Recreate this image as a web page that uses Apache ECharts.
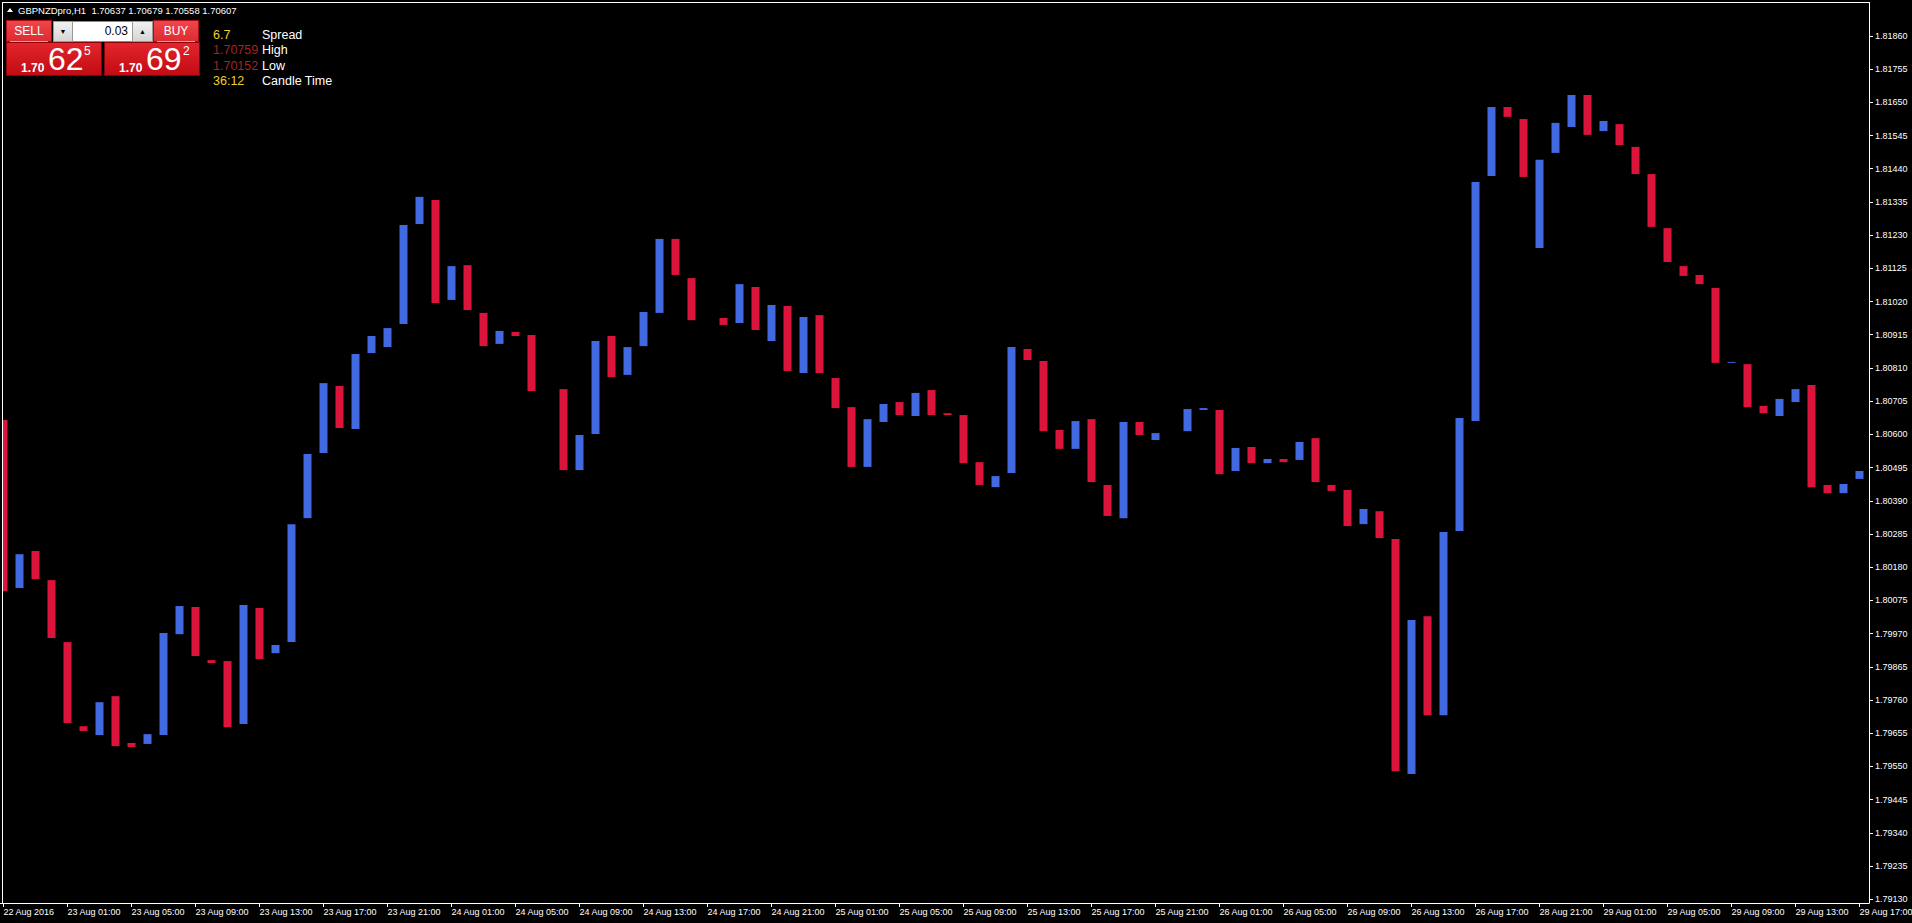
<!DOCTYPE html>
<html>
<head>
<meta charset="utf-8">
<script src="https://cdn.jsdelivr.net/npm/echarts@6/dist/echarts.min.js"></script>
<style>
html,body{margin:0;padding:0;background:#000;width:1912px;height:923px;overflow:hidden;}
#chart{position:absolute;left:0;top:0;width:1912px;height:923px;}
#hud{position:absolute;left:0;top:0;width:320px;height:100px;font-family:"Liberation Sans",Arial,sans-serif;color:#fff;}
#hud div,#hud span{position:absolute;white-space:pre;}
.tri{left:7px;top:8px;width:0;height:0;border-left:3px solid transparent;border-right:3px solid transparent;border-bottom:4px solid #fff;}
.title{left:18px;top:5px;font-size:9.5px;line-height:12px;}
.hdr{top:20px;height:22px;width:46px;font-size:12px;line-height:22px;text-align:center;
  background:linear-gradient(#f0474c,#dc2a30);box-shadow:inset 0 0 0 1px #a80d12;}
.hdr i{position:absolute;left:4px;right:4px;bottom:0;height:1px;background:#f59a9c;}
.lot{left:53px;top:21px;width:90px;height:21px;background:#fff;box-shadow:inset 0 0 0 1px #888;}
.lot .b{top:0;width:20px;height:21px;background:linear-gradient(#f2f2f2,#d4d4d4);box-shadow:inset 0 0 0 1px #999;color:#000;font-size:7px;line-height:21px;text-align:center;}
.lot .v{left:20px;top:0;width:55px;text-align:right;color:#000;font-size:12px;line-height:21px;}
.pp{top:42px;height:34px;width:96px;background:linear-gradient(#e4262d,#c00a12);box-shadow:inset 0 0 0 1px #8a0308;}
.pp .a{font-size:12px;font-weight:bold;line-height:14px;top:19px;}
.pp .b{font-size:32px;line-height:32px;top:1px;}
.pp .c{font-size:12px;line-height:12px;top:3px;}
.info{font-size:12.5px;line-height:15px;}
</style>
</head>
<body>
<div id="chart"></div>
<div id="hud">
  <div class="tri"></div>
  <div class="title">GBPNZDpro,H1  1.70637 1.70679 1.70558 1.70607</div>
  <div class="hdr" style="left:6px">SELL<i></i></div>
  <div class="lot"><div class="b" style="left:0">&#9660;</div><div class="v">0.03</div><div class="b" style="left:79px;width:21px">&#9650;</div></div>
  <div class="hdr" style="left:153px">BUY<i></i></div>
  <div class="pp" style="left:6px"><span class="a" style="left:15px">1.70</span><span class="b" style="left:42px">62</span><span class="c" style="left:78px">5</span></div>
  <div class="pp" style="left:104px"><span class="a" style="left:15px">1.70</span><span class="b" style="left:42px">69</span><span class="c" style="left:79px">2</span></div>
  <div class="info" style="left:213px;top:28px;color:#f0d020">6.7</div><div class="info" style="left:262px;top:28px">Spread</div>
  <div class="info" style="left:213px;top:43px;color:#a82024">1.70759</div><div class="info" style="left:262px;top:43px">High</div>
  <div class="info" style="left:213px;top:59px;color:#a82024">1.70152</div><div class="info" style="left:262px;top:59px">Low</div>
  <div class="info" style="left:213px;top:74px;color:#f0d020">36:12</div><div class="info" style="left:262px;top:74px">Candle Time</div>
</div>
<script>
// ---- data (GBPNZD H1 bodies) ----
const opens = [
  1.80645,1.80114,1.80231,1.80139,1.79943,1.79677,1.79649,1.79772,1.79624,1.79621,
  1.79649,1.79968,1.80054,1.79886,1.79883,1.79684,1.80051,1.79908,1.79943,1.80335,
  1.80541,1.80753,1.80617,1.80857,1.80876,1.80949,1.81265,1.81341,1.81025,1.81135,
  1.80984,1.80886,1.80924,1.80914,1.80740,1.80743,1.80487,1.80601,1.80911,1.80788,
  1.80879,1.80984,1.81218,1.81094,1.80965,1.80968,1.80952,1.81066,1.80895,1.81006,
  1.80794,1.80977,1.80778,1.80686,1.80497,1.80639,1.80702,1.80658,1.80740,1.80667,
  1.80661,1.80512,1.80433,1.80478,1.80870,1.80832,1.80614,1.80554,1.80648,1.80440,
  1.80335,1.80639,1.80582,1.80607,1.80610,1.80677,1.80677,1.80484,1.80560,1.80509,
  1.80522,1.80519,1.80588,1.80440,1.80424,1.80316,1.80357,1.80269,1.79526,1.80025,
  1.79712,1.80294,1.80642,1.81417,1.81635,1.81597,1.81189,1.81490,1.81572,1.81673,
  1.81559,1.81581,1.81509,1.81423,1.81252,1.81132,1.81104,1.81063,1.80826,1.80822,
  1.80690,1.80658,1.80702,1.80756,1.80440,1.80414,1.80459
];
const closes = [
  1.80104,1.80221,1.80142,1.79956,1.79687,1.79662,1.79753,1.79614,1.79611,1.79652,
  1.79972,1.80057,1.79899,1.79877,1.79674,1.80060,1.79889,1.79934,1.80316,1.80538,
  1.80762,1.80620,1.80854,1.80911,1.80936,1.81262,1.81351,1.81015,1.81132,1.80993,
  1.80879,1.80927,1.80911,1.80737,1.80740,1.80487,1.80598,1.80895,1.80781,1.80876,
  1.80987,1.81218,1.81104,1.80961,1.80965,1.80946,1.81075,1.80930,1.81009,1.80800,
  1.80971,1.80794,1.80683,1.80497,1.80648,1.80696,1.80661,1.80731,1.80661,1.80661,
  1.80509,1.80440,1.80468,1.80876,1.80835,1.80610,1.80554,1.80642,1.80449,1.80342,
  1.80639,1.80598,1.80604,1.80607,1.80680,1.80683,1.80474,1.80557,1.80509,1.80522,
  1.80512,1.80576,1.80449,1.80421,1.80310,1.80364,1.80272,1.79535,1.80013,1.79712,
  1.80291,1.80652,1.81398,1.81635,1.81604,1.81414,1.81468,1.81585,1.81673,1.81547,
  1.81591,1.81515,1.81423,1.81256,1.81145,1.81101,1.81075,1.80826,1.80829,1.80686,
  1.80667,1.80712,1.80743,1.80433,1.80414,1.80443,1.80484
];
const timeTickBars = [0,4,8,12,16,20,24,28,32,36,40,44,48,52,56,60,64,68,72,76,80,84,88,92,96,100,104,108,112,116];
const timeTickLabels = [
  '22 Aug 2016','23 Aug 01:00','23 Aug 05:00','23 Aug 09:00','23 Aug 13:00','23 Aug 17:00','23 Aug 21:00',
  '24 Aug 01:00','24 Aug 05:00','24 Aug 09:00','24 Aug 13:00','24 Aug 17:00','24 Aug 21:00',
  '25 Aug 01:00','25 Aug 05:00','25 Aug 09:00','25 Aug 13:00','25 Aug 17:00','25 Aug 21:00',
  '26 Aug 01:00','26 Aug 05:00','26 Aug 09:00','26 Aug 13:00','26 Aug 17:00',
  '28 Aug 21:00','29 Aug 01:00','29 Aug 05:00','29 Aug 09:00','29 Aug 13:00','29 Aug 17:00'
];
const priceTicks = [
  1.79130,1.79235,1.79340,1.79445,1.79550,1.79655,1.79760,1.79865,1.79970,1.80075,
  1.80180,1.80285,1.80390,1.80495,1.80600,1.80705,1.80810,1.80915,1.81020,1.81125,
  1.81230,1.81335,1.81440,1.81545,1.81650,1.81755,1.81860
];
const priceMin = 1.79118, priceMax = 1.81964;

// ---- build ----
const candles = opens.map((o, i) => {
  const c = closes[i];
  return [i, o, c, Math.min(o, c), Math.max(o, c)];
});

const chart = echarts.init(document.getElementById('chart'), null, {renderer: 'svg'});
const W = 1912, H = 923;
const gl = 3, gr = 1869, gt = 3, gb = 903;
const barPx = 16;
const xMin = -0.5 / barPx;
const xMax = xMin + (gr - gl) / barPx;
const font = '"Liberation Sans", Arial, sans-serif';

chart.setOption({
  backgroundColor: '#000',
  animation: false,
  grid: {left: gl, right: W - gr, top: gt, bottom: H - gb, outerBoundsMode: 'none', containLabel: false},
  xAxis: {
    type: 'value', min: xMin, max: xMax,
    splitLine: {show: false},
    axisLine: {show: true, onZero: false, lineStyle: {color: '#fff', width: 1}},
    axisTick: {show: true, length: 4, lineStyle: {color: '#fff'}, customValues: timeTickBars},
    axisLabel: {
      show: true, customValues: timeTickBars, color: '#fff', fontFamily: font, fontSize: 9,
      align: 'left', margin: 4,
      formatter: v => timeTickLabels[timeTickBars.indexOf(Math.round(v))] || ''
    }
  },
  yAxis: {
    type: 'value', position: 'right', min: priceMin, max: priceMax, scale: true,
    splitLine: {show: false},
    axisLine: {show: true, onZero: false, lineStyle: {color: '#fff', width: 1}},
    axisTick: {show: true, length: 4, lineStyle: {color: '#fff'}, customValues: priceTicks},
    axisLabel: {
      show: true, customValues: priceTicks, color: '#fff', fontFamily: font, fontSize: 9, margin: 6,
      formatter: v => v.toFixed(5)
    }
  },
  series: [{
    type: 'candlestick',
    layout: 'horizontal',
    data: candles,
    encode: {x: 0, y: [1, 2, 3, 4]},
    barWidth: 9,
    clip: true,
    z: 2,
    itemStyle: {
      color: '#4169E1', color0: '#DC143C',
      borderColor: '#4169E1', borderColor0: '#DC143C', borderColorDoji: 'rgba(0,0,0,0)',
      borderWidth: 0
    }
  }],
  graphic: {
    elements: [
      {type: 'rect', silent: true, z: 100, shape: {x: 0, y: 0, width: 2, height: 903}, style: {fill: '#000'}},
      {type: 'line', silent: true, z: 101, shape: {x1: 2.5, y1: 2, x2: 2.5, y2: 903}, style: {stroke: '#fff', lineWidth: 1}},
      {type: 'line', silent: true, z: 101, shape: {x1: 2, y1: 2.5, x2: 1870, y2: 2.5}, style: {stroke: '#fff', lineWidth: 1}},
      {type: 'line', silent: true, z: 101, shape: {x1: 0, y1: 903.5, x2: 4, y2: 903.5}, style: {stroke: '#fff', lineWidth: 1}}
    ]
  }
});
</script>
</body>
</html>
